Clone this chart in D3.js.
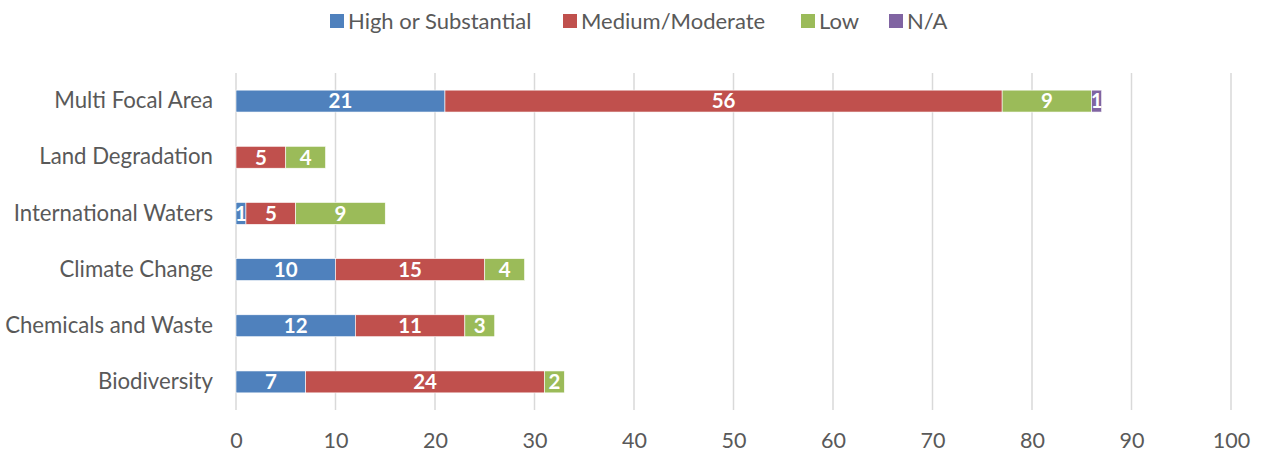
<!DOCTYPE html>
<html>
<head>
<meta charset="utf-8">
<script src="https://cdn.jsdelivr.net/npm/d3@7"></script>
<style>
  html, body { margin: 0; padding: 0; background: #fff; }
  svg { display: block; font-family: Lato, "Open Sans", sans-serif; }
</style>
</head>
<body>
<svg id="chart" width="1263" height="453"></svg>
<script>
// Focal areas, listed top to bottom
const categories = ["Multi Focal Area", "Land Degradation", "International Waters", "Climate Change", "Chemicals and Waste", "Biodiversity"];
const seriesNames = ["High or Substantial", "Medium/Moderate", "Low", "N/A"];
const highValues = [21, 0, 1, 10, 12, 7];
const mediumValues = [56, 5, 5, 15, 11, 24];
const lowValues = [9, 4, 9, 4, 3, 2];
const naValues = [1, 0, 0, 0, 0, 0];
const xTicks = [0, 10, 20, 30, 40, 50, 60, 70, 80, 90, 100];
const colors = ["#4F81BD", "#C0504D", "#9BBB59", "#8064A2"];

const svg = d3.select("#chart");
const margin = { left: 236, right: 32, top: 73, bottom: 43 };
const W = 1263, H = 453;

const x = d3.scaleLinear().domain([0, 100]).range([margin.left, W - margin.right]);
const y = d3.scaleBand().domain(categories).range([margin.top, H - margin.bottom]).paddingInner(0.61).paddingOuter(0.305);

// vertical gridlines
svg.append("g").selectAll("line").data(xTicks).join("line")
  .attr("x1", d => x(d)).attr("x2", d => x(d))
  .attr("y1", margin.top).attr("y2", H - margin.bottom)
  .attr("stroke", "#D9D9D9").attr("stroke-width", 1.5);

// x tick labels
const xAxis = svg.append("g").attr("transform", `translate(0,${H - margin.bottom})`)
  .call(d3.axisBottom(x).tickValues(xTicks).tickSize(0).tickPadding(0));
xAxis.select(".domain").remove();
xAxis.selectAll("text")
  .attr("y", 38).attr("dy", 0)
  .attr("font-size", 21.5).attr("fill", "#595959").attr("font-family", "Lato, sans-serif");

// y category labels
const yAxis = svg.append("g").attr("transform", `translate(${margin.left},0)`)
  .call(d3.axisLeft(y).tickSize(0).tickPadding(23));
yAxis.select(".domain").remove();
yAxis.selectAll("text").attr("font-size", 22.2).attr("fill", "#595959").attr("font-family", "Lato, sans-serif");

// stacked data
const rows = categories.map((c, i) => ({ cat: c, s0: highValues[i], s1: mediumValues[i], s2: lowValues[i], s3: naValues[i] }));
const stack = d3.stack().keys(["s0", "s1", "s2", "s3"])(rows);

const layers = svg.append("g").selectAll("g").data(stack).join("g")
  .attr("fill", (d, i) => colors[i]);

layers.selectAll("rect").data(d => d.filter(p => p[1] - p[0] > 0)).join("rect")
  .attr("x", p => x(p[0]))
  .attr("width", p => x(p[1]) - x(p[0]))
  .attr("y", p => y(p.data.cat))
  .attr("height", y.bandwidth())
  .attr("stroke", "#fff").attr("stroke-width", 0.6);

// value labels in each segment
layers.selectAll("text").data(d => d.filter(p => p[1] - p[0] > 0)).join("text")
  .attr("x", p => (x(p[0]) + x(p[1])) / 2)
  .attr("y", p => y(p.data.cat) + y.bandwidth() / 2)
  .attr("dy", "0.36em")
  .attr("text-anchor", "middle")
  .attr("fill", "#fff")
  .attr("font-weight", "bold")
  .attr("font-size", 20.5)
  .text(p => p[1] - p[0]);

// legend
const legendX = [330, 563, 801, 889];
const legend = svg.append("g").selectAll("g").data(seriesNames).join("g")
  .attr("transform", (d, i) => `translate(${legendX[i]},14)`);
legend.append("rect").attr("width", 14).attr("height", 14).attr("fill", (d, i) => colors[i]);
legend.append("text").attr("x", 18).attr("y", 7).attr("dy", "0.36em")
  .attr("font-size", 22).attr("fill", "#595959").text(d => d);
</script>
</body>
</html>
